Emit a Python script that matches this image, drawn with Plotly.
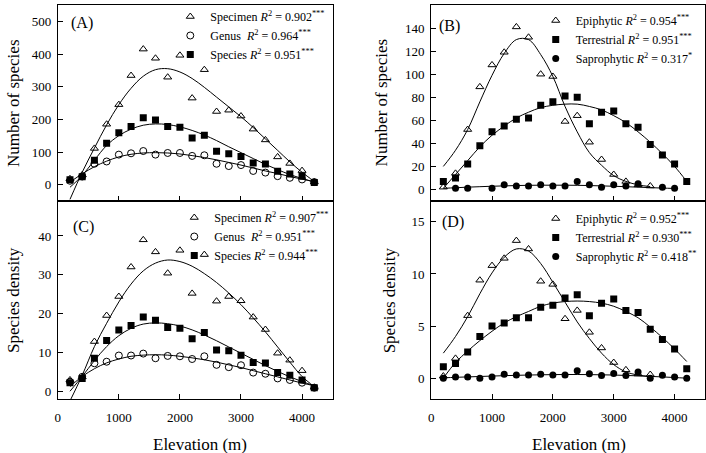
import plotly.graph_objects as go

W, H = 706, 453

elev = [200, 400, 600, 800, 1000, 1200, 1400, 1600, 1800, 2000, 2200,
        2400, 2600, 2800, 3000, 3200, 3400, 3600, 3800, 4000, 4200]

# Panel A: number of species
a_specimen = [18, 30, 111, 185, 245, 334, 415, 387, 329, 396, 265, 352, 224, 228, 210, 170, 137, 85, 65, 43, 8]
a_genus = [12, 25, 64, 71, 92, 96, 103, 92, 97, 97, 88, 90, 64, 57, 60, 42, 37, 26, 21, 16, 8]
a_species = [15, 24, 75, 127, 159, 178, 205, 198, 178, 176, 143, 151, 102, 95, 86, 66, 63, 41, 33, 26, 7]
a_specimen_fit = [-45, 38, 112, 183, 245, 295, 332, 352, 355, 345, 325, 298, 268, 238, 208, 175, 140, 105, 70, 38, 10]
a_genus_fit = [8, 33, 55, 72, 85, 93, 97, 98, 97, 94, 89, 83, 76, 68, 60, 51, 42, 34, 25, 17, 9]
a_species_fit = [-8, 28, 75, 120, 150, 170, 182, 186, 184, 177, 166, 152, 135, 116, 98, 80, 62, 46, 31, 19, 8]

# Panel B: number of species by life form
b_epi = [2, 14, 52, 89, 108, 119, 141, 132, 100, 98, 59, 64, 41, 26, 13, 7, 4, 3, None, None, None]
b_ter = [7, 10, 22, 38, 50, 55, 61, 62, 73, 76, 81, 80, 57, 67, 68, 57, 54, 39, 30, 22, 7]
b_sap = [None, 1, 1, None, 1, 4, 3, 3, 4, 3, 3, 7, 4, 2, 4, 3, 5, None, 2, 1, None]
b_epi_fit = [20, 34, 52, 76, 99, 118, 130, 130, 117, 98, 72, 50, 32, 21, 12, 7, 4, 2.5]
b_ter_fit = [1, 13, 25, 37, 47, 55, 62, 67, 71, 73, 74, 74, 72, 69, 64, 58, 50, 41, 31, 20, 7]
b_sap_fit = [1.0, 1.5, 2.0, 2.4, 2.8, 3.1, 3.4, 3.6, 3.7, 3.7, 3.7, 3.6, 3.4, 3.1, 2.8, 2.4, 2.0, 1.6, 1.2, 0.9]

# Panel C: species density
c_specimen = [2.9, 3.7, 12.8, 19.5, 24.4, 32.0, 39.0, 35.9, 30.4, 36.3, 25.2, 35.2, 23.2, 24.4, 23.3, 19.1, 15.9, 9.8, 8.0, 5.3, 1.0]
c_genus = [2.4, 3.7, 7.2, 7.6, 9.2, 9.2, 9.7, 8.5, 9.1, 9.0, 8.3, 9.0, 6.8, 6.2, 6.7, 4.8, 4.5, 3.3, 2.9, 2.2, 0.9]
c_species = [2.2, 3.3, 8.5, 13.1, 15.8, 16.9, 19.1, 18.3, 16.4, 16.2, 13.5, 15.1, 10.6, 10.4, 9.3, 7.4, 7.3, 4.8, 4.1, 2.9, 0.9]
c_specimen_fit = [-2.5, 4.1, 11.5, 17.5, 23.0, 27.6, 31.0, 33.0, 33.8, 33.4, 32.2, 30.3, 28.0, 25.3, 22.3, 18.9, 15.3, 11.4, 7.5, 3.8, 1.2]
c_genus_fit = [1.2, 3.8, 5.8, 7.3, 8.3, 9.0, 9.3, 9.4, 9.3, 9.0, 8.6, 8.1, 7.5, 6.8, 6.1, 5.3, 4.5, 3.7, 2.9, 2.1, 1.4]
c_species_fit = [0.0, 3.8, 7.9, 11.5, 14.3, 16.2, 17.3, 17.6, 17.4, 16.8, 15.8, 14.5, 13.0, 11.4, 9.8, 8.2, 6.6, 5.1, 3.7, 2.5, 1.4]

# Panel D: species density by life form
d_epi = [0.2, 1.9, 6.0, 9.4, 10.8, 11.5, 13.2, 12.4, 9.3, 9.0, 5.7, 6.5, 4.4, 2.9, 1.5, 0.8, 0.4, 0.35, None, None, None]
d_ter = [1.1, 1.4, 2.5, 4.0, 5.0, 5.3, 5.8, 5.8, 6.8, 7.0, 7.7, 8.0, 6.0, 7.2, 7.6, 6.5, 6.3, 4.7, 3.7, 2.8, 0.9]
d_sap = [0, 0.12, 0.12, 0, 0.12, 0.38, 0.3, 0.3, 0.38, 0.3, 0.3, 0.7, 0.42, 0.25, 0.45, 0.25, 0.58, 0, 0.28, 0.12, 0]
d_epi_fit = [2.4, 4.0, 5.9, 8.1, 10.1, 11.6, 12.4, 12.2, 11.0, 9.2, 7.3, 5.4, 3.8, 2.4, 1.3, 0.6, 0.3, 0.15]
d_ter_fit = [0.0, 1.5, 2.6, 3.6, 4.5, 5.3, 5.9, 6.4, 6.9, 7.2, 7.35, 7.4, 7.35, 7.2, 6.9, 6.4, 5.8, 4.9, 3.9, 2.8, 1.6]
d_sap_fit = [0.03, 0.08, 0.12, 0.16, 0.2, 0.24, 0.27, 0.3, 0.32, 0.34, 0.35, 0.35, 0.34, 0.32, 0.3, 0.26, 0.22, 0.17, 0.12, 0.06, 0.0]

x_ticks = [0, 1000, 2000, 3000, 4000]

FONT = "Liberation Serif"

def R2(name, val, stars):
    return f"{name} <i>R</i><sup>2</sup> = {val}<sup>{stars}</sup>"

marker_styles = {
    "tri": dict(symbol="triangle-up-open", size=7, color="black", line=dict(color="black", width=1)),
    "circ_open": dict(symbol="circle-open", size=7, color="black", line=dict(color="black", width=1)),
    "sq": dict(symbol="square", size=7, color="black", line=dict(width=0)),
    "circ": dict(symbol="circle", size=7, color="black", line=dict(width=0)),
}

fig = go.Figure()

def add_panel(xa, ya, legend, series):
    for name, vals, fit, style in series:
        fig.add_trace(go.Scatter(
            x=elev[:len(vals)], y=vals, mode="markers", name=name,
            marker=marker_styles[style], xaxis=xa, yaxis=ya, legend=legend,
            cliponaxis=True))
    for name, vals, fit, style in series:
        fig.add_trace(go.Scatter(
            x=elev[:len(fit)], y=fit, mode="lines", showlegend=False,
            line=dict(color="black", width=1, shape="spline", smoothing=1.0),
            xaxis=xa, yaxis=ya, hoverinfo="skip"))

add_panel("x", "y", "legend", [
    (R2("Specimen", "0.902", "***"), a_specimen, a_specimen_fit, "tri"),
    (R2("Genus\u00a0", "0.964", "***"), a_genus, a_genus_fit, "circ_open"),
    (R2("Species", "0.951", "***"), a_species, a_species_fit, "sq"),
])
add_panel("x2", "y2", "legend2", [
    (R2("Epiphytic", "0.954", "***"), b_epi, b_epi_fit, "tri"),
    (R2("Terrestrial", "0.951", "***"), b_ter, b_ter_fit, "sq"),
    (R2("Saprophytic", "0.317", "*"), b_sap, b_sap_fit, "circ"),
])
add_panel("x3", "y3", "legend3", [
    (R2("Specimen", "0.907", "***"), c_specimen, c_specimen_fit, "tri"),
    (R2("Genus\u00a0", "0.951", "***"), c_genus, c_genus_fit, "circ_open"),
    (R2("Species", "0.944", "***"), c_species, c_species_fit, "sq"),
])
add_panel("x4", "y4", "legend4", [
    (R2("Epiphytic", "0.952", "***"), d_epi, d_epi_fit, "tri"),
    (R2("Terrestrial", "0.930", "***"), d_ter, d_ter_fit, "sq"),
    (R2("Saprophytic", "0.418", "**"), d_sap, d_sap_fit, "circ"),
])

def px(x):
    return x / W

def py(y):
    return 1 - y / H

axis_common = dict(
    showline=True, linecolor="black", linewidth=1, mirror=True,
    ticks="inside", ticklen=5, tickwidth=1, tickcolor="black",
    showgrid=False, zeroline=False,
    tickfont=dict(family=FONT, size=13, color="black"),
)

left_dom = [px(55), px(331)]
right_dom = [px(430), px(705)]
top_dom = [py(201), py(5)]
bot_dom = [py(399), py(201)]

fig.update_layout(
    width=W, height=H,
    margin=dict(l=0, r=0, t=0, b=0),
    paper_bgcolor="white", plot_bgcolor="white",
    showlegend=True,
    font=dict(family=FONT, color="black"),
    xaxis=dict(domain=left_dom, anchor="y", range=[0, 4500], tickvals=x_ticks,
               showticklabels=False, **axis_common),
    yaxis=dict(domain=top_dom, anchor="x", range=[-50, 550],
               tickvals=[0, 100, 200, 300, 400, 500], ticklabelstandoff=3, **axis_common),
    xaxis2=dict(domain=right_dom, anchor="y2", range=[0, 4500], tickvals=x_ticks,
                showticklabels=False, **axis_common),
    yaxis2=dict(domain=top_dom, anchor="x2", range=[-10, 160],
                tickvals=[0, 20, 40, 60, 80, 100, 120, 140, 160], ticklabelstandoff=3, **axis_common),
    xaxis3=dict(domain=left_dom, anchor="y3", range=[0, 4500], tickvals=x_ticks,
                ticklabelstandoff=6, **axis_common),
    yaxis3=dict(domain=bot_dom, anchor="x3", range=[-2, 49],
                tickvals=[0, 10, 20, 30, 40], ticklabelstandoff=3, **axis_common),
    xaxis4=dict(domain=right_dom, anchor="y4", range=[0, 4500], tickvals=x_ticks,
                ticklabelstandoff=6, **axis_common),
    yaxis4=dict(domain=bot_dom, anchor="x4", range=[-2, 17],
                tickvals=[0, 5, 10, 15], ticklabelstandoff=3, **axis_common),
)

legend_common = dict(xanchor="left", yanchor="top", bgcolor="rgba(0,0,0,0)",
                     borderwidth=0, font=dict(family=FONT, size=12, color="black"),
                     itemwidth=30, tracegroupgap=0)
fig.update_layout(
    legend=dict(x=px(168), y=py(2), **legend_common),
    legend2=dict(x=px(535), y=py(6), **legend_common),
    legend3=dict(x=px(172), y=py(203), **legend_common),
    legend4=dict(x=px(535), y=py(204), **legend_common),
)

annotations = []
for label, x0, y0 in [("(A)", 66, 23), ("(B)", 436, 26), ("(C)", 68, 227), ("(D)", 439, 222)]:
    annotations.append(dict(text=label, x=px(x0), y=py(y0), xref="paper", yref="paper",
                            xanchor="left", yanchor="middle", showarrow=False,
                            font=dict(family=FONT, size=16, color="black")))
for label, x0, y0 in [("Number of species", 10, 103), ("Number of species", 380, 103),
                      ("Species density", 10, 300), ("Species density", 388, 300)]:
    annotations.append(dict(text=label, x=px(x0), y=py(y0), xref="paper", yref="paper",
                            xanchor="center", yanchor="middle", textangle=-90, showarrow=False,
                            font=dict(family=FONT, size=17, color="black")))
for x0 in [198, 578]:
    annotations.append(dict(text="Elevation (m)", x=px(x0), y=py(444), xref="paper", yref="paper",
                            xanchor="center", yanchor="middle", showarrow=False,
                            font=dict(family=FONT, size=17, color="black")))
fig.update_layout(annotations=annotations)

fig.write_html("out.html",
               config={"displayModeBar": False},
               post_script="document.body.style.margin='0';document.body.style.padding='0';")
